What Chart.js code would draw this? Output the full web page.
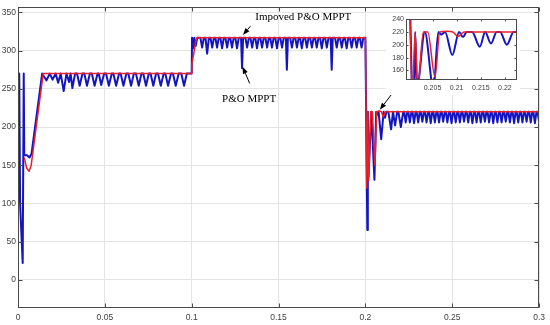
<!DOCTYPE html>
<html><head><meta charset="utf-8">
<script src="https://cdn.jsdelivr.net/npm/chart.js@4/dist/chart.umd.min.js"></script>
<style>
html,body{margin:0;padding:0;background:#fff;}
#wrap{position:relative;width:550px;height:325px;overflow:hidden;}
#main{position:absolute;left:0;top:0;}
#insetBox{position:absolute;left:386px;top:13px;width:134px;height:82px;background:#fff;}
#inset{position:absolute;left:0;top:0;}
</style>
</head><body>
<div id="wrap">
<canvas id="main" width="550" height="325"></canvas>
<div id="insetBox"><canvas id="inset" width="134" height="82"></canvas></div>
</div>
<script>
// ---- Data (time in s, voltage) ----
const xTicks = [0, 0.05, 0.1, 0.15, 0.2, 0.25, 0.3];
const yTicks = [0, 50, 100, 150, 200, 250, 300, 350];
const insetXTicks = [0.205, 0.21, 0.215, 0.22];
const insetYTicks = [160, 180, 200, 220, 240];

// P&O MPPT (blue)
const bluePoints = [
 [0,100],[0.0003,270],[0.0007,270],[0.0012,100],[0.0027,22],[0.0033,270],[0.0036,163],[0.0052,163],[0.0066,160],[0.0078,165],[0.0139,270],
 [0.0164,261],[0.0183,270],[0.0199,262],[0.0217,270],[0.0231,258],[0.0246,270],[0.0263,247],[0.0279,270],[0.0294,259],[0.0303,270],[0.0313,251],[0.0329,270],
 [0.0340,270],[0.0355,254],[0.0371,270],[0.0382,270],[0.0397,254],[0.0414,270],[0.0425,270],[0.0441,254],[0.0458,270],[0.0465,270],[0.0479,255],[0.0496,270],
 [0.0507,270],[0.0523,254],[0.0540,270],[0.0549,270],[0.0565,254],[0.0582,270],[0.0591,270],[0.0607,254],[0.0624,270],[0.0635,270],[0.0651,254],[0.0667,270],
 [0.0679,270],[0.0695,254],[0.0711,270],[0.0721,270],[0.0737,254],[0.0753,270],[0.0763,270],[0.0779,254],[0.0795,270],[0.0806,270],[0.0822,254],[0.0839,270],
 [0.0848,270],[0.0864,254],[0.0881,270],[0.0892,270],[0.0908,254],[0.0925,270],[0.0940,270],[0.0956,254],[0.0972,270],[0.1000,270],
 [0.1002,317],[0.1009,303],[0.1015,317],[0.1023,306],[0.1032,317],
 [0.1050,317],[0.1060,304],[0.1070,317],[0.1079,317],[0.1089,296],[0.1099,317],[0.1108,317],[0.1118,304],[0.1128,317],[0.1136,317],[0.1146,304],[0.1156,317],
 [0.1165,317],[0.1175,303],[0.1185,317],[0.1194,317],[0.1204,304],[0.1214,317],[0.1222,317],[0.1232,304],[0.1242,317],[0.1251,317],[0.1261,303],[0.1271,317],
 [0.1284,317],[0.1290,277],[0.1296,317],[0.1309,317],[0.1319,304],[0.1329,317],[0.1338,317],[0.1348,304],[0.1358,317],[0.1366,317],[0.1376,303],[0.1386,317],
 [0.1395,317],[0.1405,304],[0.1415,317],[0.1424,317],[0.1434,304],[0.1444,317],[0.1452,317],[0.1462,304],[0.1472,317],[0.1481,317],[0.1491,303],[0.1501,317],
 [0.1510,317],[0.1520,304],[0.1530,317],[0.1542,317],[0.1548,275],[0.1554,317],[0.1567,317],[0.1577,304],[0.1587,317],[0.1596,317],[0.1606,304],[0.1616,317],
 [0.1624,317],[0.1634,303],[0.1644,317],[0.1653,317],[0.1663,304],[0.1673,317],[0.1682,317],[0.1692,304],[0.1702,317],[0.1710,317],[0.1720,304],[0.1730,317],
 [0.1739,317],[0.1749,303],[0.1759,317],[0.1768,317],[0.1778,304],[0.1788,317],[0.1800,317],[0.1806,275],[0.1812,317],[0.1825,317],[0.1835,304],[0.1845,317],
 [0.1854,317],[0.1864,304],[0.1874,317],[0.1882,317],[0.1892,303],[0.1902,317],[0.1911,317],[0.1921,304],[0.1931,317],[0.1940,317],[0.1950,304],[0.1960,317],
 [0.1968,317],[0.1978,304],[0.1988,317],[0.2000,317],
 [0.2011,65],[0.2014,220],[0.2018,135],[0.2034,220],[0.2052,131],[0.2062,220],[0.2068,216],[0.2076,220],[0.2091,184],[0.2105,220],[0.2113,212],[0.2121,220],
 [0.2132,220],[0.2148,197],[0.2159,220],[0.2171,202],[0.2183,220],[0.2190,220],[0.2204,200],[0.2218,220],[0.2223,220],
 [0.2232,206],[0.2241,220],[0.2247,220],[0.2256,206],[0.2265,220],[0.2271,220],[0.2280,205],[0.2289,220],[0.2295,220],[0.2304,206],[0.2313,220],
 [0.2319,220],[0.2328,207],[0.2337,220],[0.2343,220],[0.2352,206],[0.2361,220],[0.2367,220],[0.2376,205],[0.2385,220],[0.2391,220],[0.2400,206],[0.2409,220],
 [0.2415,220],[0.2424,206],[0.2433,220],[0.2439,220],[0.2448,207],[0.2457,220],[0.2463,220],[0.2472,206],[0.2481,220],[0.2487,220],[0.2496,205],[0.2505,220],
 [0.2511,220],[0.2520,206],[0.2529,220],[0.2535,220],[0.2544,206],[0.2553,220],[0.2559,220],[0.2568,207],[0.2577,220],[0.2583,220],[0.2592,206],[0.2601,220],
 [0.2607,220],[0.2616,205],[0.2625,220],[0.2631,220],[0.2640,206],[0.2649,220],[0.2655,220],[0.2664,206],[0.2673,220],[0.2679,220],[0.2688,207],[0.2697,220],
 [0.2703,220],[0.2712,206],[0.2721,220],[0.2727,220],[0.2736,205],[0.2745,220],[0.2751,220],[0.2760,206],[0.2769,220],[0.2775,220],[0.2784,206],[0.2793,220],
 [0.2799,220],[0.2808,207],[0.2817,220],[0.2823,220],[0.2832,206],[0.2841,220],[0.2847,220],[0.2856,205],[0.2865,220],[0.2871,220],[0.2880,206],[0.2889,220],
 [0.2895,220],[0.2904,206],[0.2913,220],[0.2919,220],[0.2928,207],[0.2937,220],[0.2943,220],[0.2952,206],[0.2961,220],[0.2967,220],[0.2976,205],[0.2985,220],
 [0.2991,220],[0.3000,207]
];

// Improved P&O MPPT (red)
const redPoints = [
 [0.0036,160],[0.0050,146],[0.0064,142],[0.0076,150],[0.0145,270],[0.1000,270],
 [0.1001,283],[0.1012,296],[0.1023,312],[0.1030,317],[0.2000,317],
 [0.2008,120],[0.2014,220],[0.2019,130],[0.2031,220],[0.2040,220],[0.2055,150],[0.2065,220],[0.2080,221],[0.2092,220],[0.2103,213],[0.2115,220],[0.3000,220]
];

const seriesNames = ['Impoved P&O MPPT', 'P&O MPPT'];

// Annotation anchors in data coordinates
const annotations = [
 {text: seriesNames[0], at: [0.1366, 344], from: [0.1338, 332], to: [0.1295, 320.5]},
 {text: seriesNames[1], at: [0.1175, 237], from: [0.1334, 257], to: [0.1293, 279]},
 {text: null, from: [0.2148, 242], to: [0.2083, 222.5]}
];

const BLUE = '#1414c0', RED = '#e8202c';
const tickFont = {family: "'Liberation Sans', Arial, sans-serif", size: 8.5};
const toXY = arr => arr.map(p => ({x: p[0], y: p[1]}));
const fmt = v => String(parseFloat(Number(v).toFixed(3)));

const framePlugin = {
  id: 'frame',
  afterDatasetsDraw(chart, args, opts) {
    const {ctx, chartArea: a, scales: {x, y}} = chart;
    ctx.save();
    ctx.strokeStyle = opts.color; ctx.lineWidth = 1;
    const L = Math.round(a.left) + 0.5, R = Math.round(a.right) - 0.5, T = Math.round(a.top) + 0.5, B = Math.round(a.bottom) - 0.5;
    ctx.strokeRect(L, T, R - L, B - T);
    const k = opts.tick;
    ctx.beginPath();
    x.ticks.forEach(t => { const px = Math.round(x.getPixelForValue(t.value)) + 0.5; ctx.moveTo(px, B); ctx.lineTo(px, B - k); ctx.moveTo(px, T); ctx.lineTo(px, T + k); });
    y.ticks.forEach(t => { const py = Math.round(y.getPixelForValue(t.value)) + 0.5; ctx.moveTo(L, py); ctx.lineTo(L + k, py); ctx.moveTo(R, py); ctx.lineTo(R - k, py); });
    ctx.stroke();
    ctx.restore();
  }
};

const annotPlugin = {
  id: 'annot',
  afterDraw(chart) {
    const {ctx, scales: {x, y}} = chart;
    ctx.save();
    ctx.fillStyle = '#000'; ctx.strokeStyle = '#000'; ctx.lineWidth = 1;
    ctx.font = "11px 'Liberation Serif', 'Times New Roman', serif";
    ctx.textAlign = 'left'; ctx.textBaseline = 'middle';
    annotations.forEach(an => {
      if (an.text) ctx.fillText(an.text, x.getPixelForValue(an.at[0]), y.getPixelForValue(an.at[1]));
      const x1 = x.getPixelForValue(an.from[0]), y1 = y.getPixelForValue(an.from[1]);
      const x2 = x.getPixelForValue(an.to[0]), y2 = y.getPixelForValue(an.to[1]);
      const ang = Math.atan2(y2 - y1, x2 - x1), hl = 7, hw = 2.6;
      const bx = x2 - hl * Math.cos(ang), by = y2 - hl * Math.sin(ang);
      ctx.beginPath(); ctx.moveTo(x1, y1); ctx.lineTo(bx, by); ctx.stroke();
      ctx.beginPath();
      ctx.moveTo(x2, y2);
      ctx.lineTo(bx + hw * Math.sin(ang), by - hw * Math.cos(ang));
      ctx.lineTo(bx - hw * Math.sin(ang), by + hw * Math.cos(ang));
      ctx.closePath(); ctx.fill();
    });
    ctx.restore();
  }
};

function makeDatasets(smooth) {
  const common = {pointRadius: 0, borderJoinStyle: 'round', fill: false, tension: smooth ? 0.4 : 0};
  if (smooth) common.cubicInterpolationMode = 'monotone';
  return [
    Object.assign({label: seriesNames[0], data: toXY(redPoints), borderColor: RED, borderWidth: 1.5, order: 0}, common),
    Object.assign({label: seriesNames[1], data: toXY(bluePoints), borderColor: BLUE, borderWidth: 2, order: 1}, common)
  ];
}

new Chart(document.getElementById('main'), {
  type: 'line',
  data: {datasets: makeDatasets(false)},
  plugins: [framePlugin, annotPlugin],
  options: {
    responsive: false, animation: false, devicePixelRatio: 1,
    layout: {padding: {top: 7, right: 8, left: 0, bottom: 0}},
    plugins: {legend: {display: false}, tooltip: {enabled: false}, frame: {color: '#4a4a4a', tick: 4}},
    scales: {
      x: {
        type: 'linear', min: 0, max: 0.3,
        afterBuildTicks: s => { s.ticks = xTicks.map(v => ({value: v})); },
        afterFit: s => { s.height = 17; },
        grid: {color: '#e4e4e4', drawTicks: false},
        border: {display: false},
        ticks: {autoSkip: false, maxRotation: 0, padding: 5, color: '#404040', font: tickFont, callback: v => fmt(v)}
      },
      y: {
        type: 'linear', min: -37, max: 357,
        afterBuildTicks: s => { s.ticks = yTicks.map(v => ({value: v})); },
        afterFit: s => { s.width = 18; },
        grid: {color: '#e4e4e4', drawTicks: false},
        border: {display: false},
        ticks: {autoSkip: false, padding: 2, color: '#404040', font: tickFont, callback: v => fmt(v)}
      }
    }
  }
});

new Chart(document.getElementById('inset'), {
  type: 'line',
  data: {datasets: makeDatasets(true)},
  plugins: [framePlugin],
  options: {
    responsive: false, animation: false, devicePixelRatio: 1,
    layout: {padding: {top: 6, right: 3, left: 0, bottom: 0}},
    plugins: {legend: {display: false}, tooltip: {enabled: false}, frame: {color: '#4a4a4a', tick: 2}},
    scales: {
      x: {
        type: 'linear', min: 0.1995, max: 0.2225,
        afterBuildTicks: s => { s.ticks = insetXTicks.map(v => ({value: v})); },
        afterFit: s => { s.height = 15; },
        grid: {display: false, drawTicks: false},
        border: {display: false},
        ticks: {autoSkip: false, maxRotation: 0, padding: 4, color: '#404040', font: {family: tickFont.family, size: 7}, callback: v => fmt(v)}
      },
      y: {
        type: 'linear', min: 145, max: 240,
        afterBuildTicks: s => { s.ticks = insetYTicks.map(v => ({value: v})); },
        afterFit: s => { s.width = 20; },
        grid: {display: false, drawTicks: false},
        border: {display: false},
        ticks: {autoSkip: false, padding: 2, color: '#404040', font: {family: tickFont.family, size: 7}, callback: v => fmt(v)}
      }
    }
  }
});
</script>
</body></html>
